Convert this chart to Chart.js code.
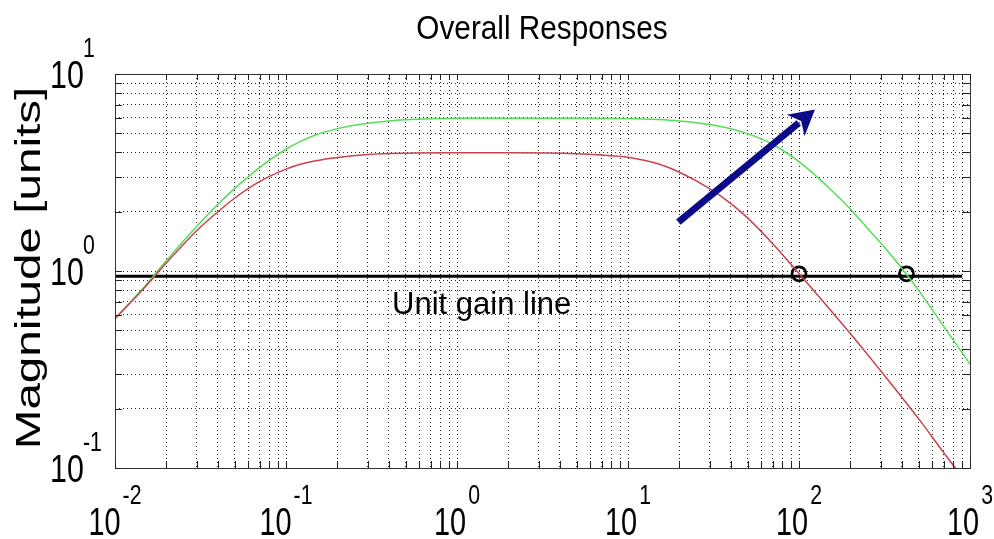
<!DOCTYPE html>
<html><head><meta charset="utf-8">
<script src="https://cdn.jsdelivr.net/npm/chart.js@4.4.1/dist/chart.umd.min.js"></script>
<style>html,body{margin:0;padding:0;background:#fff}#wrap{width:994px;height:539px;position:relative}</style>
</head><body><div id="wrap"><canvas id="c"></canvas></div>
<script>
// ---- data ----
const freqGreen = [0.01,0.015,0.02,0.03,0.04,0.05,0.06,0.07,0.08,0.1,0.12,0.15,0.2,0.25,0.3,0.4,0.5,0.7,1,2,5,10,15,20,30,40,50,70,100,130,150,200,250,300,400,500,700,1000];
const magGreen  = [0.575,0.84,1.13,1.68,2.18,2.62,3.00,3.35,3.65,4.15,4.52,4.92,5.28,5.49,5.62,5.78,5.86,5.93,5.96,5.97,5.97,5.95,5.88,5.78,5.54,5.27,4.98,4.40,3.59,2.96,2.64,2.06,1.66,1.39,1.03,0.80,0.525,0.337];
const freqRed = [0.01,0.015,0.02,0.03,0.04,0.05,0.06,0.07,0.08,0.1,0.12,0.15,0.2,0.3,0.5,1,2,5,7,10,15,20,30,40,50,70,100,150,200,300,500,700,800,850];
const magRed  = [0.572,0.83,1.10,1.60,2.00,2.34,2.62,2.84,3.02,3.29,3.47,3.63,3.77,3.90,3.96,3.98,3.98,3.94,3.88,3.78,3.50,3.17,2.62,2.20,1.86,1.38,0.97,0.645,0.48,0.312,0.178,0.120,0.103,0.096];
const unitGainFreq = [0.01, 900];
const unitGainMag  = [0.94, 0.94];
const crossingFreq = [100, 425];
const crossingMag  = [0.968, 0.968];
const arrowFreq = [19.7, 124];
const arrowMag  = [1.77, 6.6];
const xTickValues = [0.01, 0.1, 1, 10, 100, 1000];
const xTickExps   = ['-2', '-1', '0', '1', '2', '3'];
const yTickValues = [0.1, 1, 10];
const yTickExps   = ['-1', '0', '1'];
const xDecades = [-2, -1, 0, 1, 2, 3];
const yDecades = [-1, 0, 1];
const titleText = 'Overall Responses';
const yTitleText = 'Magnitude [units]';
const noteText = 'Unit gain line';
const noteFreq = 0.417, noteMag = 0.608;

const toXY = (xs, ys) => xs.map((x, i) => ({x: x, y: ys[i]}));
function gridValues(decs) {
  const out = [];
  for (let i = 0; i < decs.length - 1; i++) {
    for (let m = 1; m <= 9; m++) out.push(parseFloat((m * Math.pow(10, decs[i])).toPrecision(6)));
  }
  out.push(Math.pow(10, decs[decs.length - 1]));
  return out;
}
const FONT = '"Liberation Sans", Arial, Helvetica, sans-serif';

function scaledText(ctx, txt, x, y, font, sx, align) {
  ctx.save();
  ctx.font = font;
  const w = ctx.measureText(txt).width * sx;
  let x0 = x;
  if (align === 'center') x0 = x - w / 2;
  else if (align === 'right') x0 = x - w;
  ctx.translate(x0, y);
  ctx.scale(sx, 1);
  ctx.textAlign = 'left';
  ctx.textBaseline = 'alphabetic';
  ctx.fillText(txt, 0, 0);
  ctx.restore();
  return w;
}
function textW(ctx, txt, font, sx) { ctx.save(); ctx.font = font; const w = ctx.measureText(txt).width * sx; ctx.restore(); return w; }

const deco = {
  id: 'deco',
  afterDatasetsDraw(chart) {
    const ctx = chart.ctx, xs = chart.scales.x, ys = chart.scales.y;
    const x1 = xs.getPixelForValue(arrowFreq[0]), y1 = ys.getPixelForValue(arrowMag[0]);
    const x2 = xs.getPixelForValue(arrowFreq[1]), y2 = ys.getPixelForValue(arrowMag[1]);
    const dx = x2 - x1, dy = y2 - y1, L = Math.hypot(dx, dy), ux = dx / L, uy = dy / L;
    const hl = 25, hw = 14;
    const bx = x2 - ux * hl, by = y2 - uy * hl;
    ctx.save();
    ctx.strokeStyle = '#0b0b8a'; ctx.fillStyle = '#0b0b8a';
    ctx.lineWidth = 7; ctx.lineCap = 'butt';
    ctx.beginPath(); ctx.moveTo(x1, y1); ctx.lineTo(bx + ux * 4, by + uy * 4); ctx.stroke();
    ctx.beginPath();
    ctx.moveTo(x2, y2);
    ctx.lineTo(bx - uy * hw, by + ux * hw);
    ctx.lineTo(bx + ux * 7, by + uy * 7);
    ctx.lineTo(bx + uy * hw, by - ux * hw);
    ctx.closePath(); ctx.fill();
    ctx.restore();
  },
  afterDraw(chart) {
    const ctx = chart.ctx, a = chart.chartArea, xs = chart.scales.x, ys = chart.scales.y;
    ctx.save();
    ctx.strokeStyle = '#333'; ctx.lineWidth = 1;
    ctx.strokeRect(Math.round(a.left) + 0.5, Math.round(a.top) + 0.5, Math.round(a.right - a.left), Math.round(a.bottom - a.top));
    ctx.strokeStyle = '#222';
    ctx.beginPath();
    gridValues(xDecades).forEach(v => {
      const px = Math.round(xs.getPixelForValue(v)) + 0.5;
      ctx.moveTo(px, a.bottom); ctx.lineTo(px, a.bottom - 7);
      ctx.moveTo(px, a.top); ctx.lineTo(px, a.top + 6);
    });
    gridValues(yDecades).forEach(v => {
      const py = Math.round(ys.getPixelForValue(v)) + 0.5;
      ctx.moveTo(a.left, py); ctx.lineTo(a.left + 7, py);
      ctx.moveTo(a.right, py); ctx.lineTo(a.right - 8, py);
    });
    ctx.stroke();
    ctx.fillStyle = '#000';
    const baseFont = '38px ' + FONT, expFont = '28px ' + FONT, sx = 0.76;
    xTickValues.forEach((v, i) => {
      const px = xs.getPixelForValue(v);
      const w10 = textW(ctx, '10', baseFont, sx), we = textW(ctx, xTickExps[i], expFont, sx);
      const start = px - (w10 + 2 + we) / 2;
      scaledText(ctx, '10', start, 535, baseFont, sx, 'left');
      scaledText(ctx, xTickExps[i], start + w10 + 2, 504, expFont, sx, 'left');
    });
    yTickValues.forEach((v, i) => {
      const py = ys.getPixelForValue(v);
      scaledText(ctx, '10', 50, py + 13.5, baseFont, 0.8, 'left');
      scaledText(ctx, yTickExps[i], 83, py - 17, expFont, sx, 'left');
    });
    scaledText(ctx, titleText, 542, 39, '34px ' + FONT, 0.875, 'center');
    ctx.save();
    ctx.translate(40, 268);
    ctx.rotate(-Math.PI / 2);
    ctx.scale(1.36, 1);
    ctx.font = '35px ' + FONT;
    ctx.textAlign = 'center'; ctx.textBaseline = 'alphabetic';
    ctx.fillText(yTitleText, 0, 0);
    ctx.restore();
    ctx.font = '31px ' + FONT;
    ctx.textAlign = 'left'; ctx.textBaseline = 'alphabetic';
    ctx.fillText(noteText, xs.getPixelForValue(noteFreq), ys.getPixelForValue(noteMag));
    ctx.restore();
  }
};

const axisCommon = {
  type: 'logarithmic',
  ticks: {display: false},
  grid: {color: 'rgba(0,0,0,0.85)', lineWidth: 1, drawTicks: false},
  border: {display: false, dash: [1, 3]}
};

new Chart(document.getElementById('c'), {
  type: 'line',
  data: {datasets: [
    {label: 'Response 1', data: toXY(freqRed, magRed), borderColor: '#c9424d', borderWidth: 1.5, pointRadius: 0, cubicInterpolationMode: 'monotone', fill: false},
    {label: 'Response 2', data: toXY(freqGreen, magGreen), borderColor: '#55dd55', borderWidth: 1.5, pointRadius: 0, cubicInterpolationMode: 'monotone', fill: false},
    {label: 'Unit gain', data: toXY(unitGainFreq, unitGainMag), borderColor: '#000', borderWidth: 3, pointRadius: 0, fill: false},
    {label: 'Crossover', data: toXY(crossingFreq, crossingMag), showLine: false, pointRadius: 7, pointBorderWidth: 2.8, pointBorderColor: '#000', pointBackgroundColor: 'rgba(0,0,0,0)', pointStyle: 'circle'}
  ]},
  options: {
    responsive: true, maintainAspectRatio: false, animation: false,
    layout: {padding: {left: 115, top: 74, right: 24, bottom: 71}},
    plugins: {legend: {display: false}, tooltip: {enabled: false}, title: {display: false}},
    scales: {
      x: Object.assign({}, axisCommon, {min: 0.01, max: 1000, afterBuildTicks: s => { s.ticks = gridValues(xDecades).map(v => ({value: v})); }}),
      y: Object.assign({}, axisCommon, {min: 0.1, max: 10, afterBuildTicks: s => { s.ticks = gridValues(yDecades).map(v => ({value: v})); }})
    }
  },
  plugins: [deco]
});
</script>
</body></html>
